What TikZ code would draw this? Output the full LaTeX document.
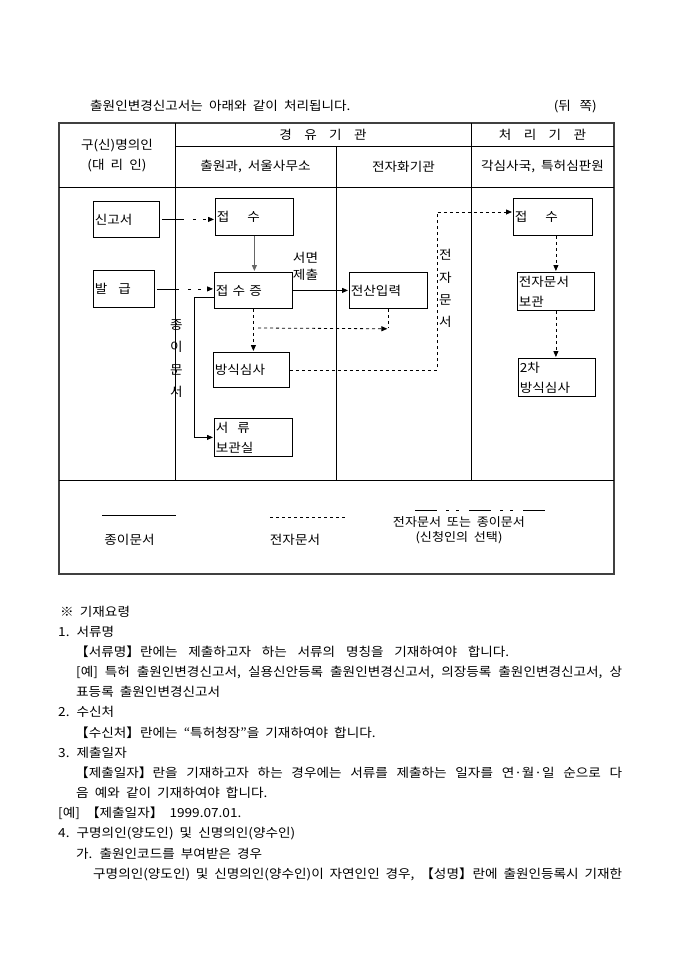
\documentclass[tikz,border=0pt]{standalone}
\usepackage{fontspec}
\setmainfont[WordSpace=2.0, FakeStretch=1.09]{Noto Sans CJK KR}
\usetikzlibrary{positioning,arrows.meta,calc}

\newcommand{\formfont}{\fontsize{12.5pt}{20pt}\selectfont}

\begin{document}
\begin{tikzpicture}[
    x=1pt, y=-1pt,
    box/.style={
        rectangle,
        draw,
        line width=0.8pt,
        anchor=north west,
        align=left,
        inner xsep=1.5pt,
        inner ysep=1pt,
        font=\formfont
    },
    cell/.style={inner sep=0pt, align=center, font=\formfont},
    vlabel/.style={inner sep=0pt, align=center, font=\fontsize{12.5pt}{22.3pt}\selectfont},
    txt/.style={anchor=base west, inner sep=0pt, font=\formfont},
    grid/.style={line width=0.8pt},
    arrow/.style={
        -{Triangle[length=6pt,width=5pt]},
        line width=0.8pt,
        shorten >=1pt
    },
    paper/.style={arrow},
    edoc/.style={arrow, dash pattern=on 3pt off 3pt},
    either/.style={arrow, dash pattern=on 22pt off 9pt on 3pt off 7pt on 3pt off 10pt}
]

\useasboundingbox[fill=white] (0,0) rectangle (680,962);

\def\colA{59}
\def\colB{175}
\def\colC{336}
\def\colD{471}
\def\colE{614}
\def\rowA{123}
\def\rowB{146}
\def\rowC{187}
\def\rowD{480}
\def\rowE{574}

%% ===== TITLE =====
\node[txt] (title) at (90,110.5) {출원인변경신고서는 아래와 같이 처리됩니다.};
\node[txt, anchor=base east] (side) at (597,110.5) {(뒤\hspace{0.7em}쪽)};

%% ===== TABLE GRID =====
\draw[grid, line width=1.1pt, black!75] (\colA,\rowA) rectangle (\colE,\rowE);
\draw[grid] (\colB,\rowA) -- (\colB,\rowD);
\draw[grid] (\colD,\rowA) -- (\colD,\rowD);
\draw[grid] (\colC,\rowB) -- (\colC,\rowD);
\draw[grid] (\colB,\rowB) -- (\colE,\rowB);
\draw[grid] (\colA,\rowC) -- (\colE,\rowC);
\draw[grid] (\colA,\rowD) -- (\colE,\rowD);

%% ===== HEADER =====
\node[cell] (holder) at ({(\colA+\colB)/2},155.5) {구(신)명의인\\(대 리 인)};
\node[cell] (via) at ({(\colB+\colD)/2},134.5) {경\hspace{0.5em} 유\hspace{0.5em} 기\hspace{0.5em} 관};
\node[cell] (proc) at ({(\colD+\colE)/2},134.5) {처\hspace{0.5em} 리\hspace{0.5em} 기\hspace{0.5em} 관};
\node[cell] (office) at ({(\colB+\colC)/2},166.5) {출원과, 서울사무소};
\node[cell] (digit) at ({(\colC+\colD)/2},166.5) {전자화기관};
\node[cell] (court) at ({(\colD+\colE)/2},166.5) {각심사국, 특허심판원};

%% ===== FLOW BOXES =====
\node[box, text width=63pt, minimum height=36pt] (form) at (93,201) {신고서};
\node[box, text width=58pt, minimum height=37pt] (issue) at (93,270) {발\hspace{11pt}급};

\node[box, text width=75pt, minimum height=37pt] (rcv) at (215,198) {접\hspace{18pt}수};
\node[box, text width=75pt, minimum height=36pt] (slip) at (214,272) {접 수 증};
\node[box, text width=73pt, minimum height=35pt] (exam) at (213,352) {방식심사};
\node[box, text width=75pt, minimum height=38pt] (store) at (214,418) {서\hspace{9pt}류\\보관실};

\node[box, text width=75pt, minimum height=36pt] (input) at (349,272) {전산입력};

\node[box, text width=76pt, minimum height=37pt] (rcv2) at (513,198) {접\hspace{18pt}수};
\node[box, text width=74pt, minimum height=38pt] (estore) at (517,272) {전자문서\\보관};
\node[box, text width=74pt, minimum height=38pt] (exam2) at (518,358) {2차\\방식심사};

%% ===== LABELS =====
\node[cell, font=\fontsize{12.5pt}{17pt}\selectfont] (sub) at (305.5,266.5) {서면\\제출};
\node[vlabel] (paperv) at (176.5,358.5) {종\\이\\문\\서};
\node[vlabel] (elecv) at (445.5,288.5) {전\\자\\문\\서};

%% ===== CONNECTORS =====
\draw[either, shorten <=2pt] (form.east) -- (form.east -| rcv.west);
\draw[either, shorten <=2pt] (issue.east) -- (issue.east -| slip.west);
\draw[paper, black!60] (rcv.south) -- (rcv.south |- slip.north);
\draw[paper] (slip.east) -- (input.west);
\draw[paper] ([yshift=-7pt]slip.west) -- ++(-20,0) |- (store.west);

\draw[edoc] (slip.south) -- (slip.south |- exam.north);
\coordinate (ejoin) at ($(input.south)+(0,20)$);
\coordinate (estart) at (258,328);
\draw[edoc] (estart) -- (ejoin);
\draw[edoc, -] (input.south) -- (ejoin);

\coordinate (ebend) at (437,212);
\draw[edoc] (exam.east) -- (exam.east -| ebend) -- (ebend) -- (ebend -| rcv2.west);
\draw[edoc] (rcv2.south -| estore.north) -- (estore.north);
\draw[edoc] (estore.south) -- (estore.south |- exam2.north);

%% ===== LEGEND =====
\coordinate (lpa) at (102,515);
\coordinate (lpb) at (176,515);
\coordinate (lea) at (270,517);
\coordinate (leb) at (345,517);
\coordinate (lma) at (415,510);
\coordinate (lmb) at (547,510);
\draw[line width=1pt] (lpa) -- (lpb);
\draw[line width=0.8pt, dash pattern=on 3pt off 3pt] (lea) -- (leb);
\draw[line width=1pt, dash pattern=on 22pt off 9pt on 3pt off 7pt on 3pt off 10pt] (lma) -- (lmb);
\node[cell] (lpaper) at (129.5,540) {종이문서};
\node[cell] (lelec) at (295,540) {전자문서};
\node[cell, font=\fontsize{12pt}{15pt}\selectfont] (leither) at (459,530.5) {전자문서 또는 종이문서\\(신청인의 선택)};

%% ===== NOTES =====
\node[txt] (n0) at (60,616) {※ 기재요령};
\node[txt] (n1) at (58,636) {1. 서류명};
\node[txt] (n2) at (75,656) {\makebox[434pt][s]{【서류명】란에는 제출하고자 하는 서류의 명칭을 기재하여야 합니다.}};
\node[txt] (n3) at (76,676) {\makebox[546pt][s]{[예] 특허 출원인변경신고서, 실용신안등록 출원인변경신고서, 의장등록 출원인변경신고서, 상}};
\node[txt] (n4) at (76,696.5) {표등록 출원인변경신고서};
\node[txt] (n5) at (58,716.5) {2. 수신처};
\node[txt] (n6) at (75,737) {【수신처】란에는 “특허청장”을 기재하여야 합니다.};
\node[txt] (n7) at (58,757) {3. 제출일자};
\node[txt] (n8) at (75,777) {\makebox[547pt][s]{【제출일자】란을 기재하고자 하는 경우에는 서류를 제출하는 일자를 연·월·일 순으로 다}};
\node[txt] (n9) at (76,797) {음 예와 같이 기재하여야 합니다.};
\node[txt] (n10) at (58,817.5) {[예] 【제출일자】 1999.07.01.};
\node[txt] (n11) at (58,837.5) {4. 구명의인(양도인) 및 신명의인(양수인)};
\node[txt] (n12) at (76,858) {가. 출원인코드를 부여받은 경우};
\node[txt] (n13) at (93,878) {\makebox[529pt][s]{구명의인(양도인) 및 신명의인(양수인)이 자연인인 경우, 【성명】란에 출원인등록시 기재한}};

\end{tikzpicture}
\end{document}
